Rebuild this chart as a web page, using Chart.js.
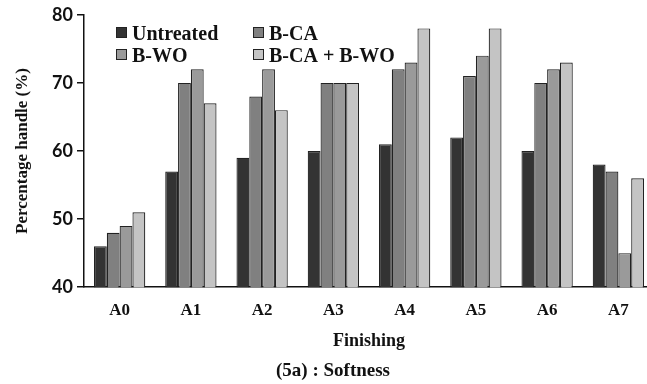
<!DOCTYPE html>
<html>
<head>
<meta charset="utf-8">
<title>Softness</title>
<script src="https://cdn.jsdelivr.net/npm/chart.js@4.4.0/dist/chart.umd.min.js"></script>
<style>
  html, body { margin: 0; padding: 0; background: #fff; overflow: hidden; }
  #wrap { width: 666px; height: 384px; }
</style>
</head>
<body>
<div id="wrap"><canvas id="softness-chart" width="666" height="384"></canvas></div>
<script>
// finishing treatments and handle values (%)
const finishes = ['A0', 'A1', 'A2', 'A3', 'A4', 'A5', 'A6', 'A7'];
const untreated = [46, 57, 59, 60, 61, 62, 60, 58];
const bCA = [48, 70, 68, 70, 72, 71, 70, 57];
const bWO = [49, 72, 72, 70, 73, 74, 72, 45];
const bCAbWO = [51, 67, 66, 70, 78, 78, 73, 56];
const yTicks = [40, 50, 60, 70, 80];

const serif = '"Liberation Serif", "DejaVu Serif", serif';

// legend in two columns inside the plot
const gridLegend = {
  id: 'gridLegend',
  afterDraw(chart) {
    const ctx = chart.ctx;
    const cols = [116, 253];
    const rows = [27, 49];
    ctx.save();
    ctx.font = 'bold 20px ' + serif;
    ctx.textBaseline = 'alphabetic';
    chart.data.datasets.forEach((ds, i) => {
      const x = cols[i % 2];
      const y = rows[Math.floor(i / 2)];
      ctx.fillStyle = ds.backgroundColor;
      ctx.fillRect(x, y, 10, 10);
      ctx.strokeStyle = '#222';
      ctx.lineWidth = 1;
      ctx.strokeRect(x + 0.5, y + 0.5, 10, 10);
      ctx.fillStyle = '#111';
      ctx.fillText(ds.label, x + 16, y + 13);
    });
    ctx.restore();
  }
};

function makeSet(label, data, color) {
  return {
    label: label,
    data: data,
    backgroundColor: color,
    borderColor: '#222',
    borderWidth: 1.2,
    borderSkipped: 'bottom',
    barPercentage: 1.0,
    categoryPercentage: 0.72
  };
}

const ctx = document.getElementById('softness-chart').getContext('2d');
const chart = new Chart(ctx, {
  type: 'bar',
  data: {
    labels: finishes,
    datasets: [
      makeSet('Untreated', untreated, '#333333'),
      makeSet('B-CA', bCA, '#808080'),
      makeSet('B-WO', bWO, '#9a9a9a'),
      makeSet('B-CA + B-WO', bCAbWO, '#c4c4c4')
    ]
  },
  options: {
    responsive: false,
    animation: false,
    devicePixelRatio: 1,
    layout: { padding: { top: 8, right: 12, left: 12, bottom: 2 } },
    plugins: {
      legend: { display: false },
      tooltip: { enabled: false },
      title: {
        display: true,
        position: 'bottom',
        text: '(5a) : Softness',
        color: '#111',
        font: { family: serif, size: 19, weight: '600' },
        padding: { top: 4, bottom: 0 }
      }
    },
    scales: {
      x: {
        grid: { display: false },
        border: { display: true, color: '#111', width: 1.5 },
        ticks: {
          color: '#111',
          padding: 5,
          font: { family: serif, size: 17, weight: 'bold' }
        },
        title: {
          display: true,
          text: 'Finishing',
          color: '#111',
          font: { family: serif, size: 18, weight: 'bold' },
          padding: { top: 5, bottom: 3 }
        }
      },
      y: {
        min: 40,
        max: 80,
        afterBuildTicks: (axis) => {
          axis.ticks = yTicks.map(v => ({ value: v }));
        },
        afterFit: (axis) => { axis.width = 72; },
        grid: {
          drawOnChartArea: false,
          drawTicks: true,
          tickLength: 7,
          color: '#111',
          lineWidth: 1.5
        },
        border: { display: true, color: '#111', width: 1.5 },
        ticks: {
          color: '#111',
          padding: 4,
          font: { family: 'Lato, "Open Sans", sans-serif', size: 18, weight: 'bold' }
        },
        title: {
          display: true,
          text: 'Percentage handle (%)',
          color: '#111',
          font: { family: serif, size: 17, weight: 'bold' },
          padding: { top: 0, bottom: 6 }
        }
      }
    }
  },
  plugins: [gridLegend]
});
</script>
</body>
</html>
